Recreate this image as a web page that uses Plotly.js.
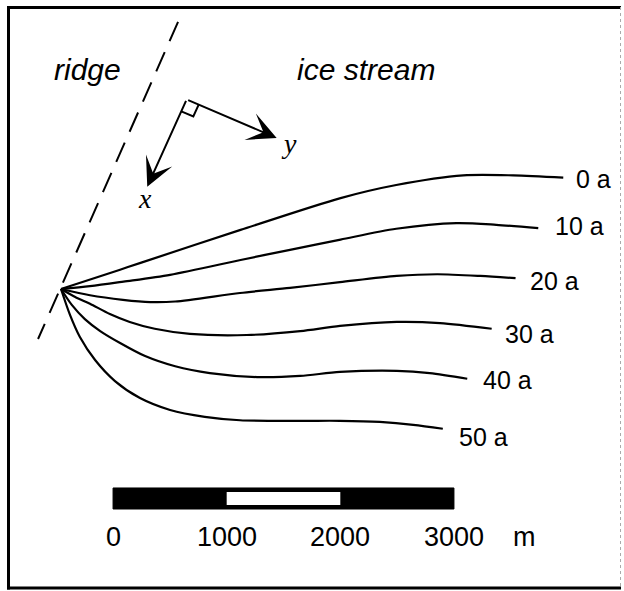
<!DOCTYPE html>
<html><head><meta charset="utf-8">
<script src="https://cdn.plot.ly/plotly-3.0.1.min.js"></script>
<style>html,body{margin:0;padding:0;background:#fff}#chart{width:624px;height:591px}</style>
</head><body><div id="chart"></div>
<script>
// Flow-line positions in metres, measured from the ridge point (x to the right, y up)
const timeLabels = ['0 a', '10 a', '20 a', '30 a', '40 a', '50 a'];
const x0a  = [0, 520, 700, 1580, 2460, 2950, 3540, 3980, 4420];
const y0a  = [0, 170, 230, 520, 800, 915, 1000, 1000, 980];
const x10a = [0, 255, 550, 960, 1580, 2015, 2460, 2950, 3480, 3830, 4200];
const y10a = [0, 25, 65, 125, 255, 345, 435, 530, 580, 565, 535];
const x20a = [0, 255, 545, 785, 1005, 1575, 2015, 2455, 2955, 3310, 3690, 4000];
const y20a = [0, -55, -95, -115, -110, -35, 10, 60, 115, 130, 115, 95];
const x30a = [0, 125, 255, 430, 605, 825, 1135, 1635, 2105, 2455, 2955, 3335, 3790];
const y30a = [0, -70, -130, -220, -290, -350, -395, -405, -370, -325, -290, -300, -350];
const x40a = [0, 95, 210, 345, 520, 740, 1005, 1310, 1725, 2105, 2455, 2955, 3245, 3575];
const y40a = [0, -140, -265, -370, -475, -590, -680, -740, -775, -765, -730, -720, -740, -790];
const x50a = [0, 80, 165, 300, 475, 695, 960, 1265, 1575, 2105, 2455, 2805, 3100, 3360];
const y50a = [0, -230, -420, -625, -810, -960, -1065, -1125, -1155, -1160, -1160, -1170, -1195, -1230];

// Ridge (ice divide) line
const ridgeX = [1030, -202];
const ridgeY = [2350, -440];

// Scale bar
const scaleTicks = [0, 1000, 2000, 3000];
const scaleUnit = 'm';

// Region labels and coordinate system
const regionLabels = ['ridge', 'ice stream'];
const axisNames = ['x', 'y'];

const xs = [x0a, x10a, x20a, x30a, x40a, x50a];
const ys = [y0a, y10a, y20a, y30a, y40a, y50a];

const MPP = 8.8;           // metres per pixel
const ORX = 61, ORY = 289; // pixel position of the ridge point
const W = 624, H = 591;
const xr = [-ORX * MPP, (W - ORX) * MPP];
const yr = [(ORY - H) * MPP, ORY * MPP];

const traces = [];
xs.forEach((xv, i) => {
  traces.push({x: xv, y: ys[i], mode: 'lines', type: 'scatter', hoverinfo: 'skip',
    line: {color: '#000', width: 2.2, shape: 'spline', smoothing: 0.8}});
});
traces.push({x: ridgeX, y: ridgeY, mode: 'lines', type: 'scatter', hoverinfo: 'skip',
  line: {color: '#000', width: 2, dash: '21px,12px'}});

const annotations = [];
const lblFont = {family: 'Liberation Sans, Arial, sans-serif', size: 25, color: '#000'};
const lblDX = [11, 15, 12, 11, 14, 14];
const lblDY = [-1, 2, -3, -5, -1, -8];
xs.forEach((xv, i) => {
  annotations.push({x: xv[xv.length - 1], y: ys[i][ys[i].length - 1], xref: 'x', yref: 'y',
    text: timeLabels[i], showarrow: false, xanchor: 'left', yanchor: 'middle',
    xshift: lblDX[i], yshift: lblDY[i], font: lblFont});
});

// region labels
const itFont = {family: 'Liberation Sans, Arial, sans-serif', size: 30, color: '#000', style: 'italic'};
annotations.push({x: 229, y: 1930, xref: 'x', yref: 'y', text: regionLabels[0], showarrow: false,
  xanchor: 'center', yanchor: 'middle', font: itFont});
annotations.push({x: 2684, y: 1930, xref: 'x', yref: 'y', text: regionLabels[1], showarrow: false,
  xanchor: 'center', yanchor: 'middle', font: itFont});

// coordinate arrows
const corner = [1106, 1668], xTip = [759, 900], yTip = [1898, 1329];
[xTip, yTip].forEach(t => {
  annotations.push({x: t[0], y: t[1], ax: corner[0], ay: corner[1], axref: 'x', ayref: 'y',
    xref: 'x', yref: 'y', text: '', showarrow: true, arrowhead: 3, arrowsize: 2.4,
    arrowwidth: 2, arrowcolor: '#000', standoff: 0, startstandoff: 0});
});
const serifFont = {family: 'Liberation Serif, Times New Roman, serif', size: 28, color: '#000', style: 'italic'};
annotations.push({x: 739, y: 800, xref: 'x', yref: 'y', text: axisNames[0], showarrow: false, font: serifFont});
annotations.push({x: 2010, y: 1280, xref: 'x', yref: 'y', text: axisNames[1], showarrow: false, font: serifFont});

// right-angle square
const ux = [(xTip[0] - corner[0]), (xTip[1] - corner[1])];
const uy = [(yTip[0] - corner[0]), (yTip[1] - corner[1])];
const lx = Math.hypot(ux[0], ux[1]), ly = Math.hypot(uy[0], uy[1]);
const s = 115;
const a = [corner[0] + ux[0] / lx * s, corner[1] + ux[1] / lx * s];
const b = [corner[0] + uy[0] / ly * s, corner[1] + uy[1] / ly * s];
const c = [a[0] + uy[0] / ly * s, a[1] + uy[1] / ly * s];

const shapes = [];
shapes.push({type: 'path', xref: 'x', yref: 'y',
  path: `M${a[0]},${a[1]} L${c[0]},${c[1]} L${b[0]},${b[1]}`, line: {color: '#000', width: 2}});

// scale bar
const barStart = 458;
const barTop = -1751, barBot = -1936, wTop = -1786, wBot = -1901;
shapes.push({type: 'rect', xref: 'x', yref: 'y', x0: barStart + scaleTicks[0], x1: barStart + scaleTicks[3],
  y0: barBot, y1: barTop, fillcolor: '#000', line: {color: '#000', width: 1}});
shapes.push({type: 'rect', xref: 'x', yref: 'y', x0: barStart + scaleTicks[1], x1: barStart + scaleTicks[2],
  y0: wBot, y1: wTop, fillcolor: '#fff', line: {width: 0}});
const numFont = {family: 'Liberation Sans, Arial, sans-serif', size: 27, color: '#000'};
scaleTicks.forEach(t => {
  annotations.push({x: barStart + t, y: -2179, xref: 'x', yref: 'y', text: String(t), showarrow: false,
    xanchor: 'center', yanchor: 'middle', font: numFont});
});
annotations.push({x: barStart + scaleTicks[3] + 620, y: -2179, xref: 'x', yref: 'y', text: scaleUnit,
  showarrow: false, xanchor: 'center', yanchor: 'middle', font: numFont});

// frame
const px = v => v / W, py = v => 1 - v / H;
shapes.push({type: 'line', xref: 'paper', yref: 'paper', x0: px(8.5), x1: px(8.5), y0: py(6), y1: py(589.5), line: {color: '#000', width: 3}});
shapes.push({type: 'line', xref: 'paper', yref: 'paper', x0: px(7), x1: px(621), y0: py(7.5), y1: py(7.5), line: {color: '#000', width: 3}});
shapes.push({type: 'line', xref: 'paper', yref: 'paper', x0: px(7), x1: px(621), y0: py(588), y1: py(588), line: {color: '#000', width: 3}});
shapes.push({type: 'line', xref: 'paper', yref: 'paper', x0: px(620.5), x1: px(620.5), y0: py(7), y1: py(588), line: {color: '#aaa', width: 1, dash: 'dot'}});

const layout = {
  width: W, height: H, margin: {l: 0, r: 0, t: 0, b: 0},
  paper_bgcolor: '#fff', plot_bgcolor: '#fff', showlegend: false,
  xaxis: {range: xr, visible: false, fixedrange: true},
  yaxis: {range: yr, visible: false, fixedrange: true},
  shapes: shapes, annotations: annotations
};
Plotly.newPlot('chart', traces, layout, {staticPlot: true});
</script></body></html>
